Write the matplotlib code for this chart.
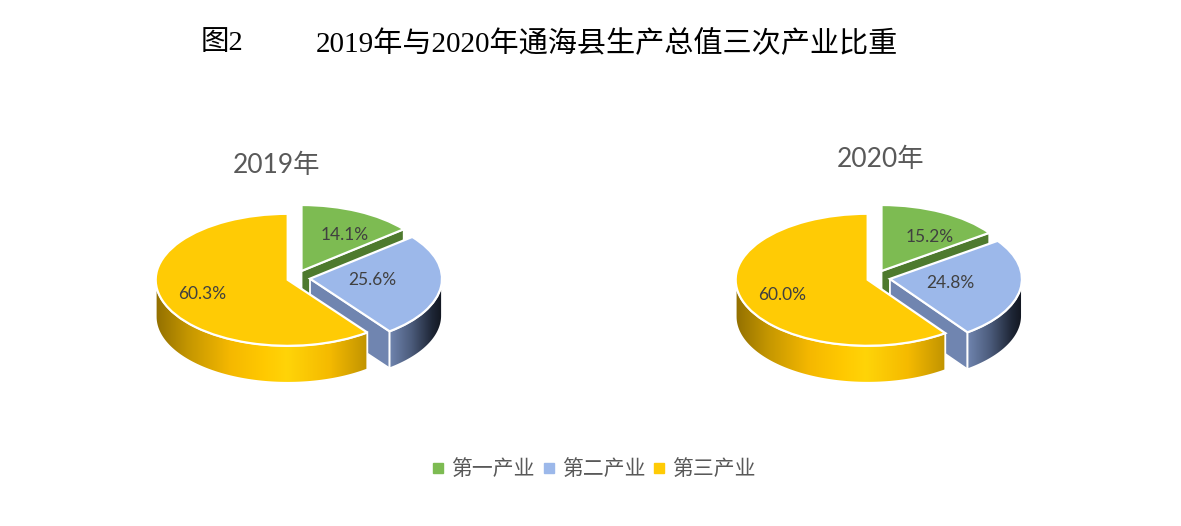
import numpy as np
import matplotlib
matplotlib.use('Agg')
import matplotlib.pyplot as plt
from matplotlib.colors import LinearSegmentedColormap
from matplotlib.lines import Line2D
from matplotlib.patches import PathPatch, Polygon
from matplotlib.path import Path

W, H = 1181, 526

categories = ['第一产业', '第二产业', '第三产业']
values_2019 = [14.1, 25.6, 60.3]
values_2020 = [15.2, 24.8, 60.0]

top_colors = ['#7DBB52', '#9CB8EA', '#FFCB05']
green_side = '#4E7A2E'
blue_side = '#7085B0'

yellow_cmap = LinearSegmentedColormap.from_list('yellow_wall', [
    (0.0, '#937000'), (0.15, '#C49600'), (0.35, '#F5B800'), (0.5, '#FFC800'),
    (0.62, '#FFD408'), (0.82, '#F5BA00'), (1.0, '#C09300')])
blue_cmap = LinearSegmentedColormap.from_list('blue_wall', [
    (0.0, '#6F84AE'), (0.4, '#4C5C7C'), (0.8, '#1E2636'), (1.0, '#11151E')])

RX, RY = 132, 66
DEPTH = 37 / RY
EXPLODE = [0.087, 0.087, 0.087]
GREEN_OFFSET = (0.022, 0.106)  # the green slice sits higher than a plain explode puts it
XLIM = (-1.3, 1.3)
YLIM = (-1.9, 1.3)


def fig_text(x, y, s, **kw):
    return fig.text(x / W, 1 - y / H, s, ha='center', va='center', **kw)


def rim(angles, off):
    return np.column_stack([off[0] + np.sin(angles), off[1] + np.cos(angles)])


def gradient_wall(ax, start, end, off, cmap):
    # outer rim of a slice, pushed down by the depth
    angles = np.radians(np.linspace(start, end, 80))
    top = rim(angles, off)
    bottom = top[::-1] - [0, DEPTH]
    verts = np.vstack([top, bottom, top[:1]])
    path = Path(verts, closed=True)
    im = ax.imshow(np.linspace(0, 1, 256).reshape(1, -1), cmap=cmap, aspect='auto',
                   extent=(verts[:, 0].min(), verts[:, 0].max(), YLIM[0], YLIM[1]), zorder=3)
    im.set_clip_path(PathPatch(path, transform=ax.transData))
    ax.add_patch(PathPatch(path, fc='none', ec='white', lw=1.3, zorder=3.1))


def cut_face(ax, angle, off, color, zorder):
    a = np.radians(angle)
    apex = np.array(off)
    edge = rim(np.array([a]), off)[0]
    down = np.array([0, DEPTH])
    ax.add_patch(Polygon([apex, edge, edge - down, apex - down], fc=color, ec='white', lw=1.3, zorder=zorder))


def draw_pie(center_x, center_y, values, label_pos):
    left = center_x + XLIM[0] * RX
    top = center_y - YLIM[1] * RY
    ax = fig.add_axes([left / W, 1 - (top + (YLIM[1] - YLIM[0]) * RY) / H,
                       (XLIM[1] - XLIM[0]) * RX / W, (YLIM[1] - YLIM[0]) * RY / H])
    wedges, _, autotexts = ax.pie(values, explode=EXPLODE, colors=top_colors, startangle=90,
                                  counterclock=False, autopct='%.1f%%',
                                  wedgeprops={'edgecolor': 'white', 'linewidth': 1.6, 'zorder': 5})
    wedges[0].set_center(GREEN_OFFSET)

    ends = np.cumsum(values) * 3.6
    starts = ends - np.array(values) * 3.6
    mids = np.radians((starts + ends) / 2)
    offs = [(e * np.sin(m), e * np.cos(m)) for e, m in zip(EXPLODE, mids)]
    offs[0] = GREEN_OFFSET

    # back to front: green cut, blue cut, outer walls, then the flat tops
    cut_face(ax, ends[0], offs[0], green_side, 1)
    cut_face(ax, ends[1], offs[1], blue_side, 2)
    gradient_wall(ax, 90, ends[1], offs[1], blue_cmap)
    gradient_wall(ax, starts[2], 270, offs[2], yellow_cmap)

    for txt, (px, py) in zip(autotexts, label_pos):
        txt.set_position(((px - center_x) / RX, (center_y - py) / RY))
        txt.set(family=['Lato', 'DejaVu Sans'], fontsize=12.5, color='#404040', zorder=6)

    ax.set_aspect('auto')
    ax.set_xlim(XLIM)
    ax.set_ylim(YLIM)
    ax.axis('off')


fig = plt.figure(figsize=(W / 100, H / 100), dpi=100, facecolor='white')

title_font = ['Liberation Serif', 'Noto Sans CJK SC']
fig_text(222, 44, '图2', family=title_font, fontsize=20.5, color='black')
fig_text(607, 44, '2019年与2020年通海县生产总值三次产业比重', family=title_font, fontsize=21, color='black')

sub_font = ['Lato', 'Noto Sans CJK SC']
fig_text(276, 165, '2019年', family=sub_font, fontsize=19, color='#595959')
fig_text(881, 160, '2020年', family=sub_font, fontsize=19, color='#595959')

draw_pie(298.6, 278, values_2019, [(345, 235), (372, 280), (202, 294)])
draw_pie(878.6, 278, values_2020, [(930, 237), (950, 283), (782, 295)])

handles = [Line2D([], [], ls='none', marker='s', ms=6.5, color=c) for c in top_colors]
fig.legend(handles, categories, loc='center', bbox_to_anchor=(594.5 / W, 1 - 469 / H), ncol=3, frameon=False,
           prop={'family': ['Noto Sans CJK SC', 'DejaVu Sans'], 'size': 15}, labelcolor='#595959',
           handlelength=0.5, handletextpad=0.38, columnspacing=0.42, borderpad=0)

fig.savefig('out.png', dpi=100)
